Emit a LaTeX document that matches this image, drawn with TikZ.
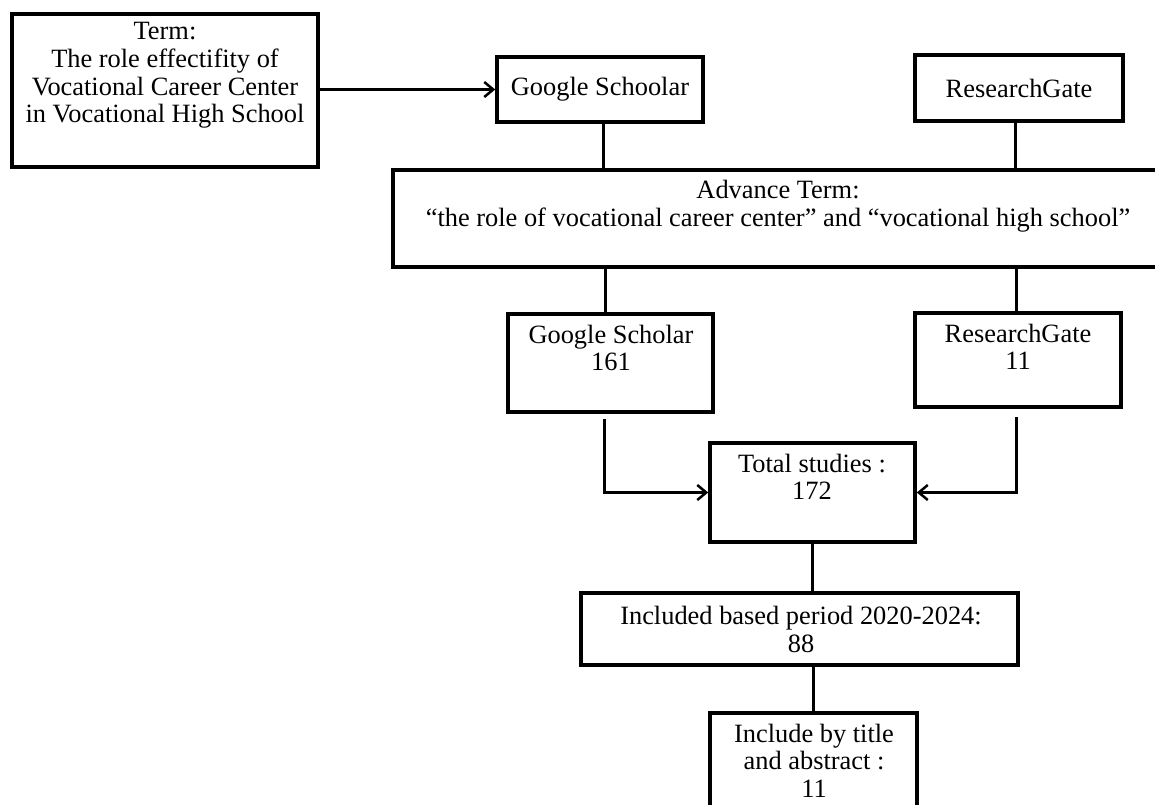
\documentclass[tikz,border=0pt]{standalone}
\usepackage{fontspec}
\setmainfont{Liberation Serif}
\usetikzlibrary{arrows.meta}
\begin{document}
\begin{tikzpicture}[x=1bp,y=-1bp,
  box/.style={draw, line width=3.6bp, inner sep=0pt},
  conn/.style={line width=3bp},
  arr/.style={conn, -{Straight Barb[length=9bp,width=15bp,line width=2.5bp]}},
  txt/.style={align=center, inner sep=0pt, font=\fontsize{26.5}{27.7}\selectfont}]
\useasboundingbox (0,0) rectangle (1155,805);
\fill[white] (0,0) rectangle (1155,805);
\clip (0,0) rectangle (1155,805);
% boxes
\node[box, minimum width=306bp, minimum height=153bp] (term) at (165,90.5) {};
\node[box, txt, minimum width=206bp, minimum height=65bp] (gs1) at (600,89.5) {Google Schoolar};
\node[box, txt, minimum width=208bp, minimum height=66bp] (rg1) at (1019,88) {ResearchGate};
\node[box, minimum width=770bp, minimum height=97bp] (adv) at (778,218.5) {};
\node[box, minimum width=205bp, minimum height=98bp] (gs2) at (610.5,363) {};
\node[box, minimum width=206bp, minimum height=94bp] (rg2) at (1018,360) {};
\node[box, minimum width=205bp, minimum height=99bp] (total) at (812.5,492.5) {};
\node[box, minimum width=437bp, minimum height=72bp] (incl) at (799.5,629) {};
\node[box, minimum width=207bp, minimum height=102bp] (last) at (813.5,764) {};
% texts
\node[txt] (termt) at (165,75.5) {Term:\\The role effectifity of\\Vocational Career Center\\in Vocational High School};
\node[txt] (advt) at (778,206) {Advance Term:\\“the role of vocational career center” and “vocational high school”};
\node[txt] (gs2t) at (611,348) {Google Scholar\\161};
\node[txt] (rg2t) at (1018,347) {ResearchGate\\11};
\node[txt] (totalt) at (812,477) {Total studies :\\172};
\node[txt] (inclt) at (801,629.5) {Included based period 2020-2024:\\88};
\node[txt] (lastt) at (814,760.5) {Include by title\\and abstract :\\11};
% connectors
\draw[arr] (term.east |- gs1.west) -- (gs1.west);
\draw[conn] ([xshift=3bp]gs1.south) -- ([xshift=3bp]gs1.south |- adv.north);
\draw[conn] ([xshift=-4bp]rg1.south) -- ([xshift=-4bp]rg1.south |- adv.north);
\draw[conn] ([xshift=-5bp]gs2.north) -- ([xshift=-5bp]gs2.north |- adv.south);
\draw[conn] ([xshift=-2bp]rg2.north) -- ([xshift=-2bp]rg2.north |- adv.south);
\draw[arr, shorten <=5bp] ([xshift=-6.5bp]gs2.south) |- (total.west);
\draw[arr, shorten <=8bp] ([xshift=-2bp]rg2.south) |- (total.east);
\draw[conn] (total.south) -- (incl.north -| total.south);
\draw[conn] (incl.south -| last.north) -- (last.north);
\end{tikzpicture}
\end{document}
